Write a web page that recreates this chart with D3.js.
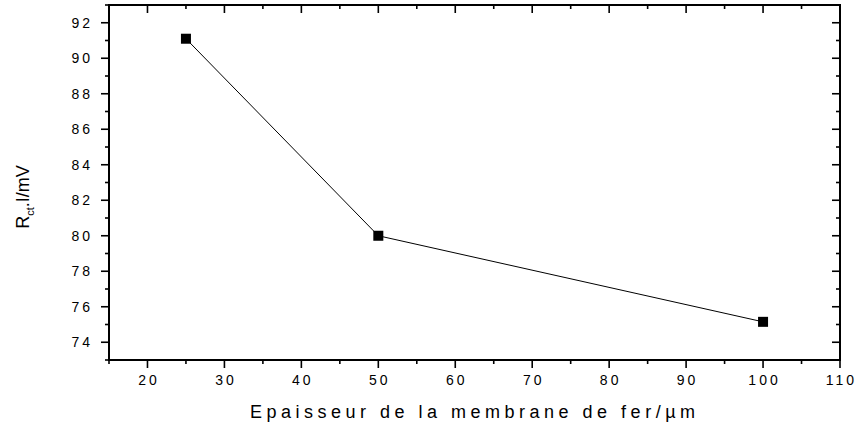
<!DOCTYPE html>
<html>
<head>
<meta charset="utf-8">
<script src="https://cdn.jsdelivr.net/npm/d3@7"></script>
<style>
  html, body { margin: 0; padding: 0; background: #fff; }
  svg { display: block; }
  text { font-family: "Liberation Sans", Arial, Helvetica, sans-serif; fill: #000; }
</style>
</head>
<body>
<svg id="chart" width="858" height="427"></svg>
<script>
// Membrane thickness (µm) and charge-transfer resistance values
const thickness = [25, 50, 100];
const rct = [91.1, 80.0, 75.15];

const xMajorTicks = [20, 30, 40, 50, 60, 70, 80, 90, 100, 110];
const xMinorTicks = [15, 25, 35, 45, 55, 65, 75, 85, 95, 105];
const yMajorTicks = [74, 76, 78, 80, 82, 84, 86, 88, 90, 92];
const yMinorTicks = [73, 75, 77, 79, 81, 83, 85, 87, 89, 91, 93];

const xTitle = "Epaisseur de la membrane de fer/µm";

const svg = d3.select("#chart");
const plotLeft = 109, plotRight = 840, plotTop = 5, plotBottom = 360;

const x = d3.scaleLinear().domain([15, 110]).range([plotLeft, plotRight]);
const y = d3.scaleLinear().domain([73, 93]).range([plotBottom, plotTop]);

const majorLen = 8, minorLen = 4;
const axisStroke = 2;

function tickLines(g, values, len, orient) {
  g.selectAll(null).data(values).enter().append("line")
    .attr("stroke", "#000").attr("stroke-width", 1.6)
    .each(function (d) {
      const s = d3.select(this);
      if (orient === "bottom") s.attr("x1", x(d)).attr("x2", x(d)).attr("y1", plotBottom).attr("y2", plotBottom + len);
      if (orient === "top") s.attr("x1", x(d)).attr("x2", x(d)).attr("y1", plotTop).attr("y2", plotTop + len);
      if (orient === "left") s.attr("y1", y(d)).attr("y2", y(d)).attr("x1", plotLeft).attr("x2", plotLeft - len);
      if (orient === "right") s.attr("y1", y(d)).attr("y2", y(d)).attr("x1", plotRight).attr("x2", plotRight - len);
    });
}

const axes = svg.append("g");
tickLines(axes, xMajorTicks, majorLen, "bottom");
tickLines(axes, xMinorTicks, minorLen, "bottom");
tickLines(axes, xMajorTicks, majorLen, "top");
tickLines(axes, xMinorTicks, minorLen, "top");
tickLines(axes, yMajorTicks, majorLen, "left");
tickLines(axes, yMinorTicks, minorLen, "left");
tickLines(axes, yMajorTicks, majorLen, "right");
tickLines(axes, yMinorTicks, minorLen, "right");

// frame
axes.append("rect")
  .attr("x", plotLeft).attr("y", plotTop)
  .attr("width", plotRight - plotLeft).attr("height", plotBottom - plotTop)
  .attr("fill", "none").attr("stroke", "#000").attr("stroke-width", axisStroke);

// tick labels
const tickFont = 14, tickSpacing = 3;
svg.append("g").selectAll("text").data(xMajorTicks).enter().append("text")
  .attr("x", d => x(d) + tickSpacing / 2).attr("y", 385)
  .attr("text-anchor", "middle")
  .style("font-size", tickFont + "px").style("letter-spacing", tickSpacing + "px")
  .text(d => d);

svg.append("g").selectAll("text").data(yMajorTicks).enter().append("text")
  .attr("x", 90 + tickSpacing).attr("y", d => y(d) + 5)
  .attr("text-anchor", "end")
  .style("font-size", tickFont + "px").style("letter-spacing", tickSpacing + "px")
  .text(d => d);

// axis titles
const titleSpacing = 4.5;
svg.append("text")
  .attr("x", 472.5 + titleSpacing / 2).attr("y", 418)
  .attr("text-anchor", "middle")
  .style("font-size", "18px").style("letter-spacing", titleSpacing + "px")
  .text(xTitle);

const yTitle = svg.append("text")
  .attr("transform", "translate(29,197) rotate(-90)")
  .attr("text-anchor", "middle")
  .style("font-size", "18px");
yTitle.append("tspan").text("R");
yTitle.append("tspan").attr("dy", 5).style("font-size", "11px").text("ct");
yTitle.append("tspan").attr("dy", -5).text(".I/mV");

// data line and markers
const pts = thickness.map((t, i) => [t, rct[i]]);
svg.append("path")
  .datum(pts)
  .attr("fill", "none").attr("stroke", "#000").attr("stroke-width", 1)
  .attr("d", d3.line().x(d => x(d[0])).y(d => y(d[1])));

const ms = 10;
svg.append("g").selectAll("rect").data(pts).enter().append("rect")
  .attr("x", d => x(d[0]) - ms / 2).attr("y", d => y(d[1]) - ms / 2)
  .attr("width", ms).attr("height", ms).attr("fill", "#000");
</script>
</body>
</html>
